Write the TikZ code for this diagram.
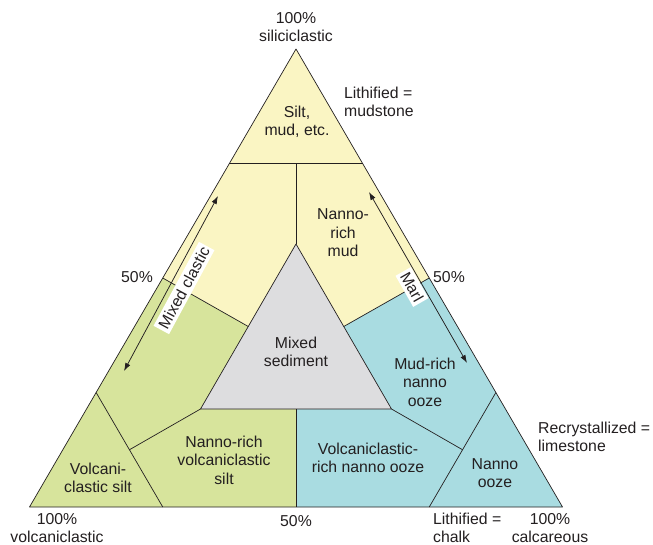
\documentclass[tikz,border=0pt]{standalone}
\usepackage{fontspec}
\setmainfont{Liberation Sans}
\usetikzlibrary{arrows.meta,calc}
\definecolor{ink}{HTML}{231F20}
\definecolor{ylw}{HTML}{FAF5C3}
\definecolor{grn}{HTML}{D7E49C}
\definecolor{cyn}{HTML}{A9DCE1}
\definecolor{gry}{HTML}{DDDDDF}
\begin{document}
\begin{tikzpicture}[x=1pt,y=-1pt,line join=round,
  edge/.style={draw=ink,line width=0.7pt},
  lbl/.style={text=ink,font=\fontsize{15.8}{18.5}\selectfont,align=center,inner sep=0pt},
  lbll/.style={lbl,align=left,anchor=west},
  arr/.style={draw=ink,line width=0.75pt,{Latex[length=8pt,width=5.5pt]}-{Latex[length=8pt,width=5.5pt]}},
  tag/.style={lbl,fill=white,inner xsep=2.5pt,inner ysep=3pt}]
\useasboundingbox (0,0) rectangle (653,544);
% corner points
\coordinate (A) at (296,49);
\coordinate (L) at (29.5,507);
\coordinate (R) at (562.5,507);
\coordinate (T1) at ($(A)!0.25!(L)$);
\coordinate (T2) at ($(A)!0.25!(R)$);
\coordinate (Mt) at ($(T1)!0.5!(T2)$);
\coordinate (P50L) at ($(A)!0.5!(L)$);
\coordinate (P50R) at ($(A)!0.5!(R)$);
\coordinate (P75L) at ($(A)!0.75!(L)$);
\coordinate (P75R) at ($(A)!0.75!(R)$);
\coordinate (B25) at ($(L)!0.25!(R)$);
\coordinate (B50) at ($(L)!0.5!(R)$);
\coordinate (B75) at ($(L)!0.75!(R)$);
\coordinate (I1) at (296,244);
\coordinate (I2) at (200.5,409);
\coordinate (I3) at (391.5,409);
\coordinate (Ib) at ($(I2)!0.5!(I3)$);
\coordinate (Mil) at ($(I1)!0.5!(I2)$);
\coordinate (Mir) at ($(I1)!0.5!(I3)$);
\coordinate (CLm) at ($(P75L)!0.5!(B25)$);
\coordinate (CRm) at ($(P75R)!0.5!(B75)$);
% region fills
\fill[ylw] (A) -- (T1) -- (T2) -- cycle;
\fill[ylw] (T1) -- (Mt) -- (I1) -- (Mil) -- (P50L) -- cycle;
\fill[ylw] (Mt) -- (T2) -- (P50R) -- (Mir) -- (I1) -- cycle;
\fill[grn] (P50L) -- (Mil) -- (I2) -- (CLm) -- (P75L) -- cycle;
\fill[grn] (L) -- (P75L) -- (B25) -- cycle;
\fill[grn] (CLm) -- (I2) -- (Ib) -- (B50) -- (B25) -- cycle;
\fill[cyn] (Ib) -- (I3) -- (CRm) -- (B75) -- (B50) -- cycle;
\fill[cyn] (Mir) -- (P50R) -- (P75R) -- (CRm) -- (I3) -- cycle;
\fill[cyn] (P75R) -- (R) -- (B75) -- cycle;
\fill[gry] (I1) -- (I2) -- (I3) -- cycle;
% boundaries
\draw[edge] (A) -- (L) -- (R) -- cycle;
\draw[edge] (T1) -- (T2);
\draw[edge] (Mt) -- (I1);
\draw[edge] (I1) -- (I2) -- (I3) -- cycle;
\draw[edge] (P50L) -- (Mil);
\draw[edge] (P50R) -- (Mir);
\draw[edge] (P75L) -- (B25);
\draw[edge] (P75R) -- (B75);
\draw[edge] (CLm) -- (I2);
\draw[edge] (CRm) -- (I3);
\draw[edge] (Ib) -- (B50);
% arrows
\coordinate (mc1) at (124,371);
\coordinate (mc2) at (218,196);
\coordinate (ml1) at (369,192);
\coordinate (ml2) at (467,363);
\draw[arr] (mc1) -- (mc2);
\draw[arr] (ml1) -- (ml2);
\node[tag,rotate=61.6] (mixcl) at (184,288) {Mixed clastic};
\node[tag,rotate=-60.4] (marl) at (412,287) {Marl};
% labels
\node[lbl] (sil) at (296,27) {100\%\\siliciclastic};
\node[lbll] (mudst) at (344,102) {Lithified =\\mudstone};
\node[lbl] (silt) at (297,122) {Silt,\\mud, etc.};
\node[lbl] (nrm) at (343,233) {Nanno-\\rich\\mud};
\node[lbl] (p50l) at (137,277) {50\%};
\node[lbl] (p50r) at (449,277) {50\%};
\node[lbl] (mixs) at (296,352) {Mixed\\sediment};
\node[lbl] (mrno) at (425,382) {Mud-rich\\nanno\\ooze};
\node[lbl] (vrno) at (368,458) {Volcaniclastic-\\rich nanno ooze};
\node[lbl] (nrvs) at (224,460) {Nanno-rich\\volcaniclastic\\silt};
\node[lbl] (vs) at (98,478) {Volcani-\\clastic silt};
\node[lbl] (no) at (495,473) {Nanno\\ooze};
\node[lbll] (lime) at (538,437) {Recrystallized =\\limestone};
\node[lbl] (volc) at (57,528) {100\%\\volcaniclastic};
\node[lbl] (p50b) at (296,521) {50\%};
\node[lbll] (chalk) at (433,528) {Lithified =\\chalk};
\node[lbl] (calc) at (550,528) {100\%\\calcareous};
\end{tikzpicture}
\end{document}
